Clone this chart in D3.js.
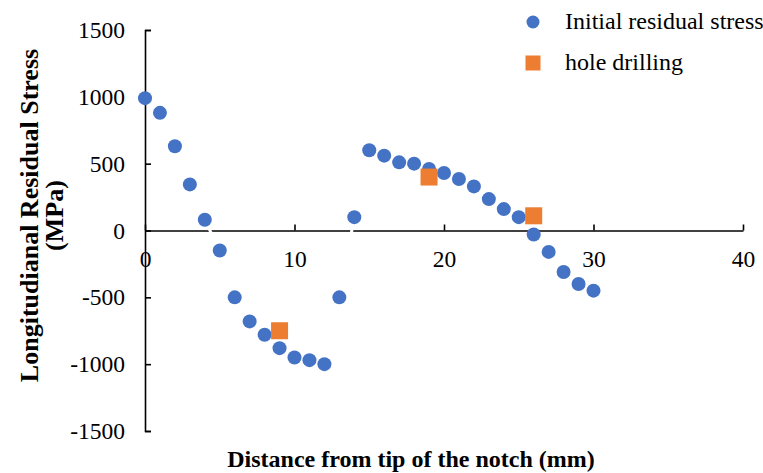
<!DOCTYPE html>
<html>
<head>
<meta charset="utf-8">
<script src="https://cdn.jsdelivr.net/npm/d3@7"></script>
<style>
  body { margin: 0; background: #fff; }
  svg text { font-family: "Liberation Serif", "Times New Roman", serif; fill: #000; }
</style>
</head>
<body>
<div class="chart"></div>
<script>
var svgWidth = 763;
var svgHeight = 473;

// initial residual stress, measured along the notch
var distance = [0, 1, 2, 3, 4, 5, 6, 7, 8, 9, 10, 11, 12, 13, 14, 15,
	16, 17, 18, 19, 20, 21, 22, 23, 24, 25, 26, 27, 28, 29, 30];
var stress = [990, 880, 630, 345, 80, -150, -500, -680, -780, -880, -950, -970, -1000, -500, 100, 600,
	560, 510, 500, 460, 430, 385, 330, 235, 160, 100, -30, -160, -310, -400, -450];

// hole drilling measurements
var drillDistance = [9, 19, 26];
var drillStress = [-750, 400, 110];

var xTicks = [0, 10, 20, 30, 40];
var yTicks = [-1500, -1000, -500, 0, 500, 1000, 1500];

var seriesNames = ["Initial residual stress", "hole drilling"];

var blue = "#4472C4";
var orange = "#ED7D31";

var svg = d3.select(".chart")
	.append("svg")
	.attr("width", svgWidth)
	.attr("height", svgHeight);

var x = d3.scaleLinear().domain([0, 40]).range([145, 743]);
var y = d3.scaleLinear().domain([-1500, 1500]).range([431, 30]);

var points = distance.map(function(d, i) { return {x: d, y: stress[i]}; });
var drills = drillDistance.map(function(d, i) { return {x: d, y: drillStress[i]}; });

var plain = function(d) { return String(d); };

// y axis, ticks pointing into the plot
svg.append("g")
	.attr("transform", "translate(" + x(0) + ",0)")
	.call(d3.axisLeft(y).tickValues(yTicks).tickFormat(plain)
		.tickSizeInner(-6).tickSizeOuter(-6).tickPadding(20));

// x axis sits on zero
svg.append("g")
	.attr("transform", "translate(0," + y(0) + ")")
	.call(d3.axisBottom(x).tickValues(xTicks).tickFormat(plain)
		.tickSizeInner(-6).tickSizeOuter(0).tickPadding(20));

svg.selectAll(".domain, .tick line")
	.attr("stroke", "#000")
	.attr("stroke-width", 1.6);
svg.selectAll(".tick text")
	.style("font-size", "23.5px")
	.attr("fill", "#000");

// invisible (white) connecting line, as in the original, cutting the axis
var line = d3.line()
	.x(function(d) { return x(d.x); })
	.y(function(d) { return y(d.y); });

svg.append("path")
	.datum(points)
	.attr("d", line)
	.attr("fill", "none")
	.attr("stroke", "#fff")
	.attr("stroke-width", 3);

svg.selectAll("circle.pt")
	.data(points)
	.enter().append("circle")
	.attr("class", "pt")
	.attr("cx", function(d) { return x(d.x); })
	.attr("cy", function(d) { return y(d.y); })
	.attr("r", 7)
	.attr("fill", blue);

var sq = 17;
svg.selectAll("rect.drill")
	.data(drills)
	.enter().append("rect")
	.attr("class", "drill")
	.attr("x", function(d) { return x(d.x) - sq / 2; })
	.attr("y", function(d) { return y(d.y) - sq / 2; })
	.attr("width", sq)
	.attr("height", sq)
	.attr("fill", orange);

// legend
var legend = svg.append("g");
legend.append("circle")
	.attr("cx", 533)
	.attr("cy", 22)
	.attr("r", 6.5)
	.attr("fill", blue);
legend.append("rect")
	.attr("x", 533 - 7.5)
	.attr("y", 63 - 7.5)
	.attr("width", 15)
	.attr("height", 15)
	.attr("fill", orange);
legend.selectAll("text")
	.data(seriesNames)
	.enter().append("text")
	.attr("x", 565)
	.attr("y", function(d, i) { return 29 + i * 41; })
	.style("font-size", "24px")
	.text(function(d) { return d; });

// axis titles
svg.append("text")
	.attr("x", 411)
	.attr("y", 467)
	.attr("text-anchor", "middle")
	.style("font-size", "24px")
	.style("font-weight", "bold")
	.text("Distance from tip of the notch (mm)");

// spelling as in the source figure
var yTitle = svg.append("text")
	.attr("transform", "translate(0,215.5) rotate(-90)")
	.attr("text-anchor", "middle")
	.style("font-size", "26px")
	.style("font-weight", "bold");
yTitle.append("tspan")
	.attr("x", 0)
	.attr("y", 38)
	.text("Longitudianal Residual Stress");
yTitle.append("tspan")
	.attr("x", 0)
	.attr("y", 63)
	.text("(MPa)");
</script>
</body>
</html>
